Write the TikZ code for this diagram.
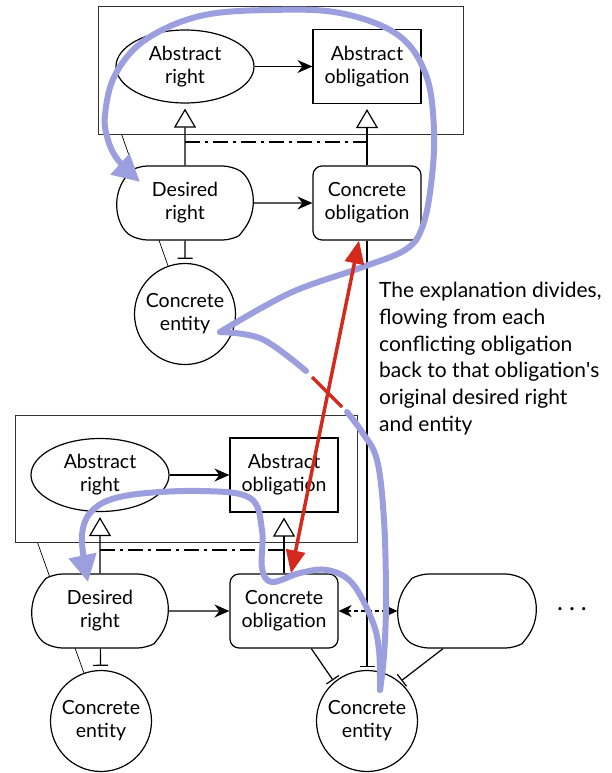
\documentclass[tikz,border=0pt]{standalone}
\usepackage{fontspec}
\setmainfont{Lato}
\usepackage{tikz}
\usetikzlibrary{calc,arrows.meta,shapes.geometric,shapes.misc}
\pgfdeclarelayer{back}
\pgfsetlayers{back,main}
\definecolor{ink}{HTML}{000000}
\definecolor{grpline}{HTML}{333333}
\definecolor{flow}{HTML}{9C9FDD}
\definecolor{clash}{HTML}{D42A1E}
\tikzset{
  box/.style={draw=ink, line width=1.2pt, fill=white, align=center, inner sep=0pt,
    font=\fontsize{19.5}{23}\selectfont},
  absright/.style={box, ellipse, minimum width=138pt, minimum height=73pt},
  absobl/.style={box, rectangle, minimum width=108pt, minimum height=74pt},
  desright/.style={box, rounded rectangle, rounded rectangle arc length=120,
    rounded corners=9pt, minimum width=136pt, minimum height=74pt},
  conobl/.style={box, rectangle, rounded corners=9pt, minimum width=108pt, minimum height=74pt},
  entity/.style={box, circle, minimum size=101pt},
  grp/.style={draw=grpline, line width=1pt, inner sep=0pt},
  link/.style={draw=ink, line width=1.2pt},
  arr/.style={link, -{Stealth[length=15pt,width=13pt,inset=5pt]}},
  dblarr/.style={link, dash pattern=on 4pt off 3pt,
    {Stealth[length=13pt,width=12pt,inset=4pt]}-{Stealth[length=13pt,width=12pt,inset=4pt]}},
  isa/.style={link, -{Triangle[open,length=19pt,width=22pt,fill=white]}, shorten >=5pt},
  barln/.style={link, -{Bar[width=15pt]}, shorten >=4pt},
  dashdot/.style={link, dash pattern=on 15pt off 5pt on 3pt off 5pt},
  tie/.style={draw=ink, line width=0.7pt},
  flowln/.style={draw=flow, line width=6pt, line cap=round, line join=round},
  flowarr/.style={flowln, -{Triangle[length=27pt,width=27pt]}},
  clashln/.style={draw=clash, line width=3.5pt},
  clasharr/.style={clashln, {Triangle[length=23pt,width=19pt]}-{Triangle[length=23pt,width=19pt]}},
  note/.style={font=\fontsize{21}{26.7}\selectfont, align=left, anchor=north west, inner sep=0pt}
}
\begin{document}
\begin{tikzpicture}[x=1pt,y=-1pt]
  \useasboundingbox (0,0) rectangle (611,773);
  % upper case
  \node[grp, minimum width=365pt, minimum height=127pt] (fr1) at (280.5,70.5) {};
  \node[absright] (ar1) at (185,66.5) {Abstract\\right};
  \node[absobl] (ao1) at (367,66.5) {Abstract\\obligation};
  \node[desright] (dr1) at (185,203) {Desired\\right};
  \node[conobl] (co1) at (367,203) {Concrete\\obligation};
  \node[entity] (en1) at (185,314) {Concrete\\entity};
  % lower case
  \node[grp, minimum width=342pt, minimum height=127pt] (fr2) at (186,478.5) {};
  \node[absright] (ar2) at (100,475) {Abstract\\right};
  \node[absobl] (ao2) at (284,475) {Abstract\\obligation};
  \node[desright] (dr2) at (100,611) {Desired\\right};
  \node[conobl] (co2) at (284,611) {Concrete\\obligation};
  \node[desright, minimum width=138pt] (dr3) at (467,611) {};
  \node[entity] (en2) at (101,721) {Concrete\\entity};
  \node[entity] (en3) at (367,721) {Concrete\\entity};
  \node[font=\fontsize{25}{25}\selectfont, inner sep=0pt] (more) at (572,609) {.\hspace{6pt}.\hspace{6pt}.};
  \node[note] (expl) at (379,282) {The explanation divides,\\flowing from each\\conflicting obligation\\back to that obligation\textquotesingle s\\original desired right\\and entity};

  \begin{pgfonlayer}{back}
    \draw[tie] ($(fr1.south west)!0.066!(fr1.south east)$) -- (en1);
    \draw[tie] ($(fr2.south west)!0.067!(fr2.south east)$) -- (en2);
  \end{pgfonlayer}

  \draw[arr] (ar1) -- (ao1);
  \draw[arr] (dr1) -- (co1);
  \draw[isa] (dr1) -- (ar1);
  \draw[isa] (co1) -- (ao1);
  \draw[dashdot] ($(dr1.north)+(0,-23.5)$) -- ($(co1.north)+(0,-23.5)$);
  \draw[barln] (dr1) -- (en1);
  \draw[barln, shorten >=3pt] (co1) -- (en3);

  \draw[arr] (ar2) -- (ao2);
  \draw[arr] (dr2) -- (co2);
  \draw[isa] (dr2) -- (ar2);
  \draw[isa] (co2) -- (ao2);
  \draw[dashdot] ($(dr2.north)+(0,-23.5)$) -- ($(co2.north)+(0,-23.5)$);
  \draw[barln] (dr2) -- (en2);
  \draw[barln, shorten >=2pt] ($(co2.south)!0.5!(co2.south east)$) -- (en3.130);
  \draw[barln, shorten >=2pt] ($(dr3.south)!0.5!(dr3.south west)$) -- (en3.50);
  \draw[dblarr] (co2) -- (dr3);

  % explanation flow
  \coordinate (fs) at ($(en1.center)+(35,18)$);
  \coordinate (fe) at ($(en3.center)+(13,-31)$);
  \coordinate (ta) at (140,182);
  \coordinate (tb) at (88,582);
  \draw[flowarr] plot[smooth, tension=0.6] coordinates {(fs) (290,293) (360,268) (405,250)
    (422,228) (431,185) (434,130) (426,75) (398,35) (340,13) (270,10) (200,16) (145,40)
    (115,75) (105,115) (108,140) (118,160) (ta)};
  \draw[flowln] plot[smooth, tension=0.6] coordinates {(fs) (262,339) (306,371)};
  \draw[flowln] plot[smooth, tension=0.6] coordinates {(347,412) (362,432) (377,460)
    (384,520) (386,600) (384,655) (fe)};
  \draw[flowarr] plot[smooth, tension=0.6] coordinates {(fe) (379,650) (372,620) (352,583)
    (327,570) (300,573) (272,582) (262,568) (262,530) (250,498) (200,491) (130,495)
    (95,508) (82,535) (tb)};
  \draw[clashln] (312,377) -- (342,407);
  \draw[clasharr] ($(co2.north)+(7,0)$) -- ($(co1.south)+(-8,0)$);
\end{tikzpicture}
\end{document}
